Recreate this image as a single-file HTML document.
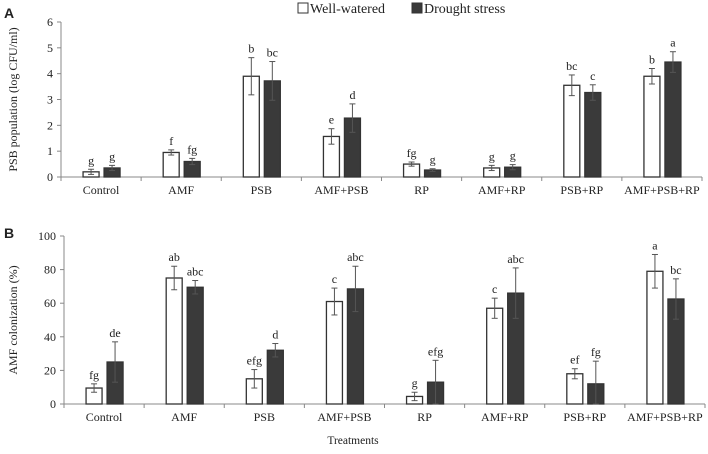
<!DOCTYPE html>
<html><head><meta charset="utf-8"><style>
body{margin:0;background:#fff;width:708px;height:449px;overflow:hidden}
svg text{font-family:"Liberation Serif",serif;fill:#222}
</style></head><body>
<svg id="c" width="708" height="449">
<text x="4" y="18" style="font-family:'Liberation Sans',sans-serif;font-weight:bold;font-size:14px">A</text>
<text x="4" y="238" style="font-family:'Liberation Sans',sans-serif;font-weight:bold;font-size:14px">B</text>
<g>
<rect x="298" y="3" width="10" height="10" fill="#fff" stroke="#333"/>
<text x="310" y="13" font-size="14">Well-watered</text>
<rect x="412" y="3" width="10" height="10" fill="#3a3a3a" stroke="#333"/>
<text x="424" y="13" font-size="14">Drought stress</text>
</g>
<text x="353" y="444" font-size="11.5" text-anchor="middle">Treatments</text>
</svg>
<script>
const categories=["Control","AMF","PSB","AMF+PSB","RP","AMF+RP","PSB+RP","AMF+PSB+RP"];
const aWell=[0.2,0.95,3.9,1.57,0.5,0.35,3.55,3.9];
const aWellErr=[0.1,0.1,0.72,0.3,0.08,0.1,0.4,0.3];
const aDry=[0.35,0.6,3.72,2.28,0.27,0.38,3.27,4.45];
const aDryErr=[0.1,0.12,0.75,0.55,0.05,0.1,0.3,0.4];
const aWellLbl=["g","f","b","e","fg","g","bc","b"];
const aDryLbl=["g","fg","bc","d","g","g","c","a"];
const aTicks=[0,1,2,3,4,5,6];
const bWell=[9.5,75,15,61,4.5,57,18,79];
const bWellErr=[2.5,7,5.5,8,2.5,6,3,10];
const bDry=[25,69.5,32,68.5,13,66,12,62.5];
const bDryErr=[12,4,4,13.5,13,15,13.5,12];
const bWellLbl=["fg","ab","efg","c","g","c","ef","a"];
const bDryLbl=["de","abc","d","abc","efg","abc","fg","bc"];
const bTicks=[0,20,40,60,80,100];
const svg=document.getElementById('c');const NS="http://www.w3.org/2000/svg";
function mk(t,a,p){const e=document.createElementNS(NS,t);for(const k in a)e.setAttribute(k,a[k]);(p||svg).appendChild(e);return e;}
function panel(id,x0,x1,y0,ymax,pxTop,ticks,well,wErr,dry,dErr,wl,dl,title){
  const g=mk('g',{});
  
  
  const Y=v=>y0-(v/ymax)*(y0-pxTop);
  const cw=(x1-x0)/categories.length;
  mk('line',{x1:x0,y1:pxTop,x2:x0,y2:y0,stroke:'#888'},g);
  mk('line',{x1:x0,y1:y0,x2:x1,y2:y0,stroke:'#888'},g);
  ticks.forEach(t=>{
    mk('line',{x1:x0-4,y1:Y(t),x2:x0,y2:Y(t),stroke:'#888'},g);
    const tx=mk('text',{x:x0-8,y:Y(t)+4,'font-size':'12','text-anchor':'end'},g);tx.textContent=t;
    
    
  });
  for(let i=0;i<=categories.length;i++)mk('line',{x1:x0+i*cw,y1:y0,x2:x0+i*cw,y2:y0+4,stroke:'#888'},g);
  categories.forEach((c,i)=>{
    const cx=x0+(i+0.5)*cw;
    const xl=mk('text',{x:cx,y:y0+17,'font-size':'12','text-anchor':'middle'},g);xl.textContent=c;
    
    
    [[well,wErr,wl,'#fff',-18,'well'],[dry,dErr,dl,'#3a3a3a',3,'drought']].forEach(([v,e,l,f,off,nm])=>{
      const bx=cx+off,bw=16;
      const r=mk('rect',{x:bx,y:Y(v[i]),width:bw,height:y0-Y(v[i]),fill:f,stroke:'#333','stroke-width':1.3},g);
      
      
      const mx=bx+bw/2,t=Y(v[i]+e[i]),b=Y(Math.max(0,v[i]-e[i]));
      mk('line',{x1:mx,y1:t,x2:mx,y2:b,stroke:'#555'},g);
      mk('line',{x1:mx-3,y1:t,x2:mx+3,y2:t,stroke:'#555'},g);
      mk('line',{x1:mx-3,y1:b,x2:mx+3,y2:b,stroke:'#555'},g);
      const lt=mk('text',{x:mx,y:t-5,'font-size':'12','text-anchor':'middle'},g);lt.textContent=l[i];
      
      
    });
  });
  const yt=mk('text',{x:0,y:0,'font-size':'12','text-anchor':'middle',transform:`translate(17,${(y0+pxTop)/2}) rotate(-90)`},g);yt.textContent=title;
  
  
}
panel('panel-a',61,702,177,6,22,aTicks,aWell,aWellErr,aDry,aDryErr,aWellLbl,aDryLbl,'PSB population (log CFU/ml)');
panel('panel-b',64,705,404,100,236,bTicks,bWell,bWellErr,bDry,bDryErr,bWellLbl,bDryLbl,'AMF colonization (%)');
</script>
</body></html>
